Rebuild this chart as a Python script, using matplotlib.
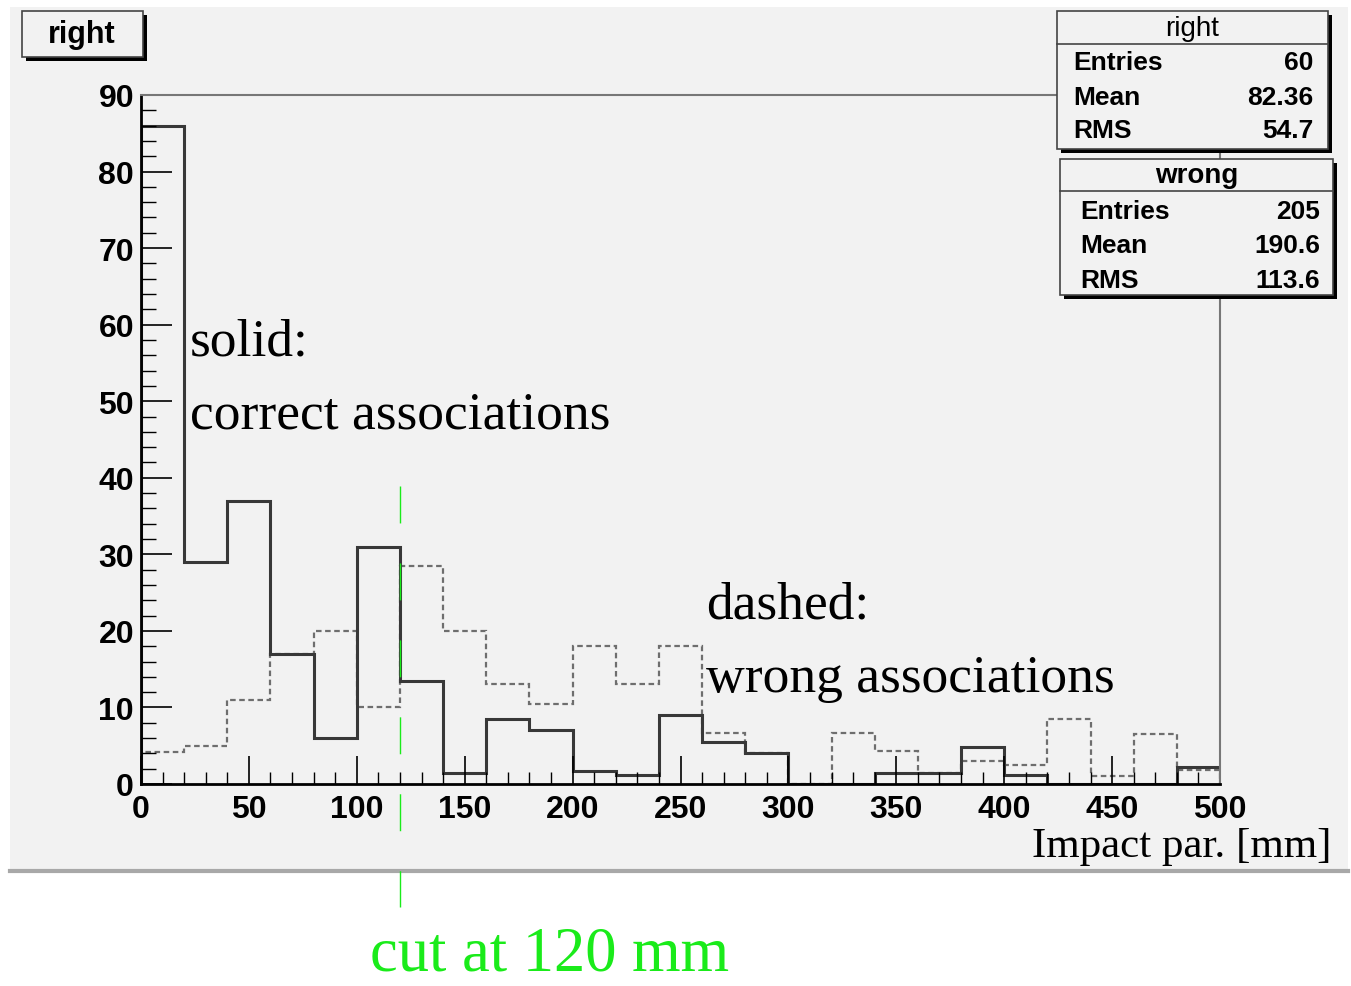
import numpy as np
import matplotlib.pyplot as plt
from matplotlib.patches import Rectangle
from matplotlib.lines import Line2D

W, H = 1351, 987

# histogram data
bin_edges = np.arange(0, 520, 20)
right_counts = [86, 29, 37, 17, 6, 31, 13.5, 1.5, 8.5, 7, 1.7, 1.2, 9,
                5.5, 4, 0, 0, 1.5, 1.5, 4.8, 1.2, 0, 0, 0, 2.2]
wrong_counts = [4.2, 5, 11, 17, 20, 10, 28.5, 20, 13, 10.5, 18, 13, 18,
                6.7, 4, 0, 6.7, 4.3, 1.5, 3, 2.5, 8.5, 1, 6.5, 1.8]
cut_value = 120
x_ticks = [0, 50, 100, 150, 200, 250, 300, 350, 400, 450, 500]
y_ticks = [0, 10, 20, 30, 40, 50, 60, 70, 80, 90]
stats_right = [("Entries", "60"), ("Mean", "82.36"), ("RMS", "54.7")]
stats_wrong = [("Entries", "205"), ("Mean", "190.6"), ("RMS", "113.6")]

GREEN = '#1aeb1a'
PAD = '#f2f2f2'
SANS = 'Liberation Sans'
SERIF = 'Liberation Serif'


def fx(px):
    return px / W


def fy(py):
    return 1 - py / H


def box(x0, y0, x1, y1, shadow=4):
    # ROOT style box with a black drop shadow bottom/right
    fig.add_artist(Rectangle((fx(x0 + shadow), fy(y1 + shadow)), fx(x1) - fx(x0),
                             fy(y0) - fy(y1), facecolor='black', edgecolor='none', zorder=3))
    fig.add_artist(Rectangle((fx(x0), fy(y1)), fx(x1) - fx(x0), fy(y0) - fy(y1),
                             facecolor=PAD, edgecolor='#444444', lw=1.2, zorder=4))


fig = plt.figure(figsize=(W / 100, H / 100), dpi=100)
fig.patch.set_facecolor('white')

# the canvas pad
fig.add_artist(Rectangle((fx(10), fy(870)), fx(1348) - fx(10), fy(8) - fy(870),
                         facecolor=PAD, edgecolor='none', zorder=-2))
fig.add_artist(Line2D([fx(10), fx(1348)], [fy(872), fy(872)], color='#a8a8a8', lw=3, zorder=-1))

ax = fig.add_axes([fx(141), fy(785), fx(1220) - fx(141), fy(96) - fy(785)])
ax.patch.set_visible(False)

ax.stairs(wrong_counts, bin_edges, color='#6e6e6e', lw=1.6, linestyle=(0, (2.5, 1.6)))
ax.stairs(right_counts, bin_edges, color='#383838', lw=2.2)

ax.set_xlim(0, 500)
ax.set_ylim(0, 90)
ax.set_xticks(x_ticks)
ax.set_yticks(y_ticks)
ax.set_xticks(np.arange(0, 501, 10), minor=True)
ax.set_yticks(np.arange(0, 91, 2), minor=True)
ax.tick_params(axis='x', which='major', direction='in', length=20, width=1.2, pad=7)
ax.tick_params(axis='x', which='minor', direction='in', length=9, width=1.0)
ax.tick_params(axis='y', which='major', direction='in', length=22, width=1.2, pad=5)
ax.tick_params(axis='y', which='minor', direction='in', length=11, width=1.0)
for lab in ax.get_xticklabels() + ax.get_yticklabels():
    lab.set_fontfamily(SANS)
    lab.set_fontweight('bold')
    lab.set_fontsize(23)

for s in ['left', 'bottom']:
    ax.spines[s].set_color('black')
    ax.spines[s].set_linewidth(2)
for s in ['top', 'right']:
    ax.spines[s].set_color('#777777')
    ax.spines[s].set_linewidth(1.5)

# cut line
ax.plot([cut_value, cut_value], [0.4325, -0.1785], transform=ax.get_xaxis_transform(),
        clip_on=False, color=GREEN, lw=1, dashes=(26.6, 28.8), zorder=5)

# annotations
fig.text(fx(190), fy(356), "solid:", family=SERIF, fontsize=38.5, va='baseline')
fig.text(fx(190), fy(429), "correct associations", family=SERIF, fontsize=38.5, va='baseline')
fig.text(fx(706), fy(619), "dashed:", family=SERIF, fontsize=38.5, va='baseline')
fig.text(fx(706), fy(692), "wrong associations", family=SERIF, fontsize=38.5, va='baseline')
fig.text(fx(1332), fy(857), "Impact par. [mm]", family=SERIF, fontsize=31, va='baseline', ha='right')
fig.text(fx(370), fy(971), f"cut at {cut_value} mm", family=SERIF, fontsize=45,
         va='baseline', color=GREEN)

# title box
box(22, 12, 143, 58)
fig.text(fx(82), fy(35), "right", family=SANS, fontweight='bold', fontsize=22,
         ha='center', va='center', zorder=6)

# stats boxes
for (x0, y0, x1, y1, sep, name, weight, rows, row_y, lx, rx) in [
        (1057, 12, 1328, 150, 45, "right", 'normal', stats_right, [63, 98, 131], 1073, 1313),
        (1060, 160, 1333, 296, 192, "wrong", 'bold', stats_wrong, [212, 246, 281], 1080, 1320)]:
    box(x0, y0, x1, y1)
    fig.add_artist(Line2D([fx(x0), fx(x1)], [fy(sep), fy(sep)], color='#444444', lw=1.2, zorder=5))
    fig.text(fx((x0 + x1) / 2), fy((y0 + sep) / 2), name, family=SANS, fontweight=weight,
             fontsize=20, ha='center', va='center', zorder=6)
    for (label, value), ry in zip(rows, row_y):
        fig.text(fx(lx), fy(ry), label, family=SANS, fontweight='bold', fontsize=19,
                 ha='left', va='center', zorder=6)
        fig.text(fx(rx), fy(ry), value, family=SANS, fontweight='bold', fontsize=19,
                 ha='right', va='center', zorder=6)

plt.savefig("out.png", dpi=100)
